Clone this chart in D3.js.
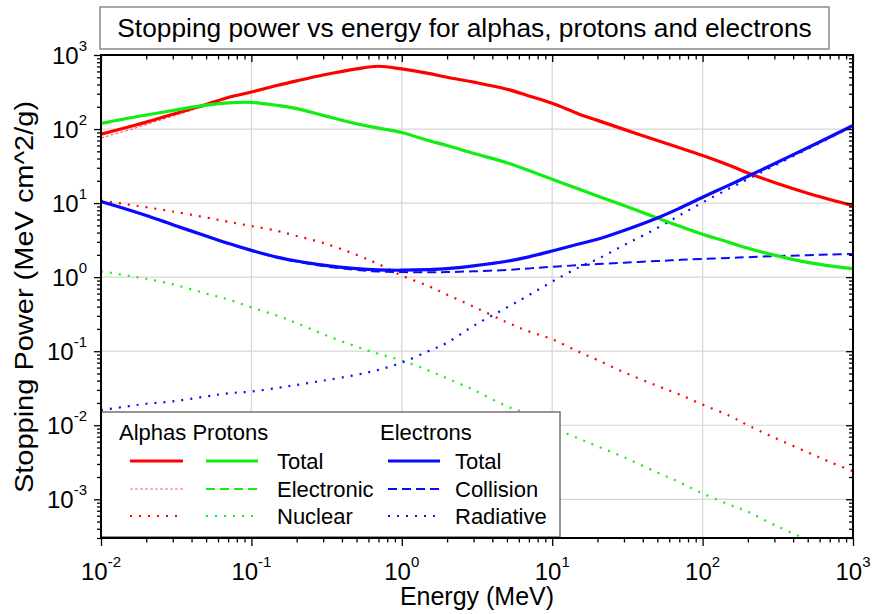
<!DOCTYPE html>
<html>
<head>
<meta charset="utf-8">
<script src="https://cdn.jsdelivr.net/npm/d3@7"></script>
<style>
  html, body { margin: 0; padding: 0; background: #fff; }
  svg { display: block; font-family: "Liberation Sans", Arial, sans-serif; }
</style>
</head>
<body>
<svg id="chart" width="875" height="614"></svg>
<script>
// Energy grid (MeV)
const energy = [0.01, 0.015, 0.02, 0.03, 0.05, 0.07, 0.1, 0.15, 0.2, 0.3, 0.5, 0.7, 1, 1.5, 2, 3, 5, 7, 10, 15, 20, 30, 50, 70, 100, 150, 200, 300, 500, 700, 1000];

// Alphas (MeV cm^2/g)
const alphaTotal = [85, 106, 124, 158, 214, 267, 316, 390, 447, 536, 650, 705, 648, 565, 500, 430, 345, 280, 223, 160, 131, 99, 70, 56, 44, 32.5, 25.5, 19, 13.6, 11.2, 9.2];
const alphaElectronic = [76, 96, 115, 150, 207, 261, 311, 386, 444, 533, 648, 704, 647, 564, 499, 430, 345, 280, 223, 160, 131, 99, 70, 56, 44, 32.5, 25.5, 19, 13.6, 11.2, 9.2];
const alphaNuclear = [10.8, 9.6, 8.8, 7.7, 6.4, 5.6, 4.9, 4.2, 3.6, 2.9, 2.0, 1.5, 1.05, 0.76, 0.58, 0.40, 0.245, 0.185, 0.145, 0.098, 0.076, 0.052, 0.034, 0.026, 0.019, 0.0135, 0.010, 0.0068, 0.0043, 0.0032, 0.0024];

// Protons
const protonTotal = [119, 140, 155, 178, 210, 226, 229, 208, 189, 153, 118, 103, 90, 70, 60, 47, 35, 27.5, 21, 15.5, 12.5, 9.3, 6.3, 4.9, 3.8, 2.95, 2.45, 1.98, 1.58, 1.42, 1.30];
const protonElectronic = [118, 139, 154, 177, 209, 225, 229, 208, 189, 153, 118, 103, 90, 70, 60, 47, 35, 27.5, 21, 15.5, 12.5, 9.3, 6.3, 4.9, 3.8, 2.95, 2.45, 1.98, 1.58, 1.42, 1.30];
const protonNuclear = [1.2, 1.05, 0.95, 0.8, 0.6, 0.5, 0.39, 0.3, 0.24, 0.17, 0.115, 0.092, 0.075, 0.055, 0.043, 0.03, 0.018, 0.014, 0.0095, 0.0066, 0.0052, 0.0037, 0.0023, 0.0017, 0.0012, 0.00085, 0.00068, 0.00045, 0.00028, 0.0002, 0.00015];

// Electrons
const electronTotal = [10.5, 8.2, 6.8, 5.1, 3.6, 2.86, 2.3, 1.85, 1.65, 1.45, 1.3, 1.25, 1.24, 1.26, 1.3, 1.42, 1.64, 1.88, 2.25, 2.8, 3.25, 4.27, 6.3, 8.5, 12, 17.5, 23, 34, 56, 78, 112];
const electronCollision = [10.5, 8.2, 6.8, 5.1, 3.6, 2.83, 2.27, 1.82, 1.62, 1.41, 1.25, 1.19, 1.17, 1.16, 1.17, 1.2, 1.25, 1.31, 1.38, 1.45, 1.5, 1.57, 1.65, 1.71, 1.76, 1.82, 1.86, 1.92, 1.98, 2.02, 2.06];
const electronRadiative = [0.016, 0.018, 0.0195, 0.021, 0.0245, 0.027, 0.0285, 0.032, 0.035, 0.04, 0.048, 0.056, 0.07, 0.1, 0.13, 0.22, 0.39, 0.57, 0.87, 1.35, 1.75, 2.7, 4.6, 6.8, 10.2, 15.7, 21.1, 32, 54, 76, 110];

// Axis tick exponents (labels are 10^n)
const xTickExponents = [-2, -1, 0, 1, 2, 3];
const yTickExponents = [-3, -2, -1, 0, 1, 2, 3];

// Text
const titleText = "Stopping power vs energy for alphas, protons and electrons";
const xAxisTitle = "Energy (MeV)";
const yAxisTitle = "Stopping Power (MeV cm^2/g)";
const legendHeaders = ["Alphas Protons", "Electrons"];
const ionRowLabels = ["Total", "Electronic", "Nuclear"];
const electronRowLabels = ["Total", "Collision", "Radiative"];

const RED = "#ff0000", GREEN = "#11ee11", BLUE = "#0a0aff";
const styles = {
  total:   { width: 3.2, dash: null },
  redElec: { width: 1.2, dash: "3,2", color: "#ff6a6a" },
  dashed:  { width: 2, dash: "9,5" },
  dotted:  { width: 2.2, dash: "2,7" }
};

const svg = d3.select("#chart");
const plotLeft = 101, plotRight = 853, plotTop = 55, plotBottom = 538;
const yMin = 3e-4;

const x = d3.scaleLog().domain([1e-2, 1e3]).range([plotLeft, plotRight]);
const y = d3.scaleLog().domain([yMin, 1e3]).range([plotBottom, plotTop]);

// Grid lines at decades
const grid = svg.append("g").attr("stroke", "#d6d6d6").attr("stroke-width", 1.2);
xTickExponents.slice(1, -1).forEach(e => {
  grid.append("line").attr("x1", x(10 ** e)).attr("x2", x(10 ** e)).attr("y1", plotTop).attr("y2", plotBottom);
});
yTickExponents.filter(e => 10 ** e > yMin && e < 3).forEach(e => {
  grid.append("line").attr("y1", y(10 ** e)).attr("y2", y(10 ** e)).attr("x1", plotLeft).attr("x2", plotRight);
});

// Clip for the plot area
svg.append("defs").append("clipPath").attr("id", "plotClip")
  .append("rect").attr("x", plotLeft).attr("y", plotTop)
  .attr("width", plotRight - plotLeft).attr("height", plotBottom - plotTop);

const line = d3.line()
  .x(d => x(d[0]))
  .y(d => y(d[1]))
  .curve(d3.curveCatmullRom.alpha(0.5));

const plot = svg.append("g").attr("clip-path", "url(#plotClip)");

function drawSeries(values, color, st) {
  const pts = energy.map((e, i) => [e, values[i]]);
  const p = plot.append("path")
    .attr("d", line(pts))
    .attr("fill", "none")
    .attr("stroke", st.color || color)
    .attr("stroke-width", st.width);
  if (st.dash) p.attr("stroke-dasharray", st.dash);
}

drawSeries(alphaNuclear, RED, styles.dotted);
drawSeries(protonNuclear, GREEN, styles.dotted);
drawSeries(electronRadiative, BLUE, styles.dotted);
drawSeries(alphaElectronic, RED, styles.redElec);
drawSeries(protonElectronic, GREEN, styles.dashed);
drawSeries(electronCollision, BLUE, styles.dashed);
drawSeries(alphaTotal, RED, styles.total);
drawSeries(protonTotal, GREEN, styles.total);
drawSeries(electronTotal, BLUE, styles.total);

// Minor tick values
function minorTicks(lo, hi) {
  const out = [];
  for (let e = lo; e < hi; e++) for (let m = 2; m <= 9; m++) out.push(m * 10 ** e);
  return out;
}
const xMajor = xTickExponents.map(e => 10 ** e);
const yMajor = yTickExponents.map(e => 10 ** e).filter(v => v >= yMin);
const xMinor = minorTicks(-2, 3);
const yMinor = minorTicks(-4, 3).filter(v => v >= yMin);

function axisGroup(axis, transform) {
  const g = svg.append("g").attr("transform", transform).call(axis);
  g.select(".domain").remove();
  g.selectAll("text").remove();
  g.selectAll("line").attr("stroke", "#000").attr("stroke-width", 1.3);
  return g;
}
// bottom & left ticks point outward, top & right point inward
axisGroup(d3.axisBottom(x).tickValues(xMajor).tickSize(8).tickSizeOuter(0), `translate(0,${plotBottom})`);
axisGroup(d3.axisBottom(x).tickValues(xMinor).tickSize(4.5).tickSizeOuter(0), `translate(0,${plotBottom})`);
axisGroup(d3.axisBottom(x).tickValues(xMajor).tickSize(7).tickSizeOuter(0), `translate(0,${plotTop})`);
axisGroup(d3.axisBottom(x).tickValues(xMinor).tickSize(4.5).tickSizeOuter(0), `translate(0,${plotTop})`);
axisGroup(d3.axisLeft(y).tickValues(yMajor).tickSize(7).tickSizeOuter(0), `translate(${plotLeft},0)`);
axisGroup(d3.axisLeft(y).tickValues(yMinor).tickSize(4).tickSizeOuter(0), `translate(${plotLeft},0)`);
axisGroup(d3.axisLeft(y).tickValues(yMajor).tickSize(7).tickSizeOuter(0), `translate(${plotRight},0)`);
axisGroup(d3.axisLeft(y).tickValues(yMinor).tickSize(4).tickSizeOuter(0), `translate(${plotRight},0)`);

// Legend
const legend = svg.append("g");
legend.append("rect")
  .attr("x", plotLeft).attr("y", 412).attr("width", 459).attr("height", plotBottom - 412 - 1)
  .attr("fill", "#fff").attr("stroke", "#7a7a7a").attr("stroke-width", 1.6);
legend.append("text").attr("x", 119).attr("y", 440).attr("font-size", 22).text(legendHeaders[0]);
legend.append("text").attr("x", 380).attr("y", 440).attr("font-size", 22).text(legendHeaders[1]);
const rowY = [461, 489, 516];
const ionStyles = [
  [{ c: RED, s: styles.total }, { c: GREEN, s: styles.total }],
  [{ c: RED, s: styles.redElec }, { c: GREEN, s: styles.dashed }],
  [{ c: RED, s: styles.dotted }, { c: GREEN, s: styles.dotted }]
];
const electronStyles = [styles.total, styles.dashed, styles.dotted];
function sample(x1, x2, yy, color, st) {
  const l = legend.append("line").attr("x1", x1).attr("x2", x2).attr("y1", yy).attr("y2", yy)
    .attr("stroke", st.color || color).attr("stroke-width", st.width);
  if (st.dash) l.attr("stroke-dasharray", st.dash);
}
rowY.forEach((yy, i) => {
  sample(130, 183, yy, ionStyles[i][0].c, ionStyles[i][0].s);
  sample(206, 258, yy, ionStyles[i][1].c, ionStyles[i][1].s);
  legend.append("text").attr("x", 277).attr("y", yy + 8).attr("font-size", 22).text(ionRowLabels[i]);
  sample(388, 440, yy, BLUE, electronStyles[i]);
  legend.append("text").attr("x", 455).attr("y", yy + 8).attr("font-size", 22).text(electronRowLabels[i]);
});

// Frame
svg.append("rect").attr("x", plotLeft).attr("y", plotTop)
  .attr("width", plotRight - plotLeft).attr("height", plotBottom - plotTop)
  .attr("fill", "none").attr("stroke", "#000").attr("stroke-width", 2);

// Tick labels 10^n
function powerLabel(parent, px, py, e, anchor) {
  const t = parent.append("text").attr("x", px).attr("y", py).attr("font-size", 24).attr("text-anchor", anchor);
  t.append("tspan").text("10");
  t.append("tspan").attr("font-size", 15).attr("dy", -13).text(String(e));
  return t;
}
const labels = svg.append("g").attr("fill", "#000");
xTickExponents.forEach(e => powerLabel(labels, x(10 ** e), 580, e, "middle"));
yTickExponents.forEach(e => powerLabel(labels, 87, y(10 ** e) + 9, e, "end"));

// Axis titles
svg.append("text").attr("x", (plotLeft + plotRight) / 2).attr("y", 605).attr("text-anchor", "middle")
  .attr("font-size", 25).text(xAxisTitle);
svg.append("text").attr("transform", `translate(33,297) scale(0.88,1) rotate(-90)`)
  .attr("text-anchor", "middle").attr("font-size", 29).text(yAxisTitle);

// Title box
svg.append("rect").attr("x", 100).attr("y", 7).attr("width", 729).attr("height", 42)
  .attr("fill", "#fff").attr("stroke", "#8a8a8a").attr("stroke-width", 1.5);
svg.append("text").attr("x", 464.5).attr("y", 37).attr("text-anchor", "middle")
  .attr("font-size", 26.3).text(titleText);
</script>
</body>
</html>
